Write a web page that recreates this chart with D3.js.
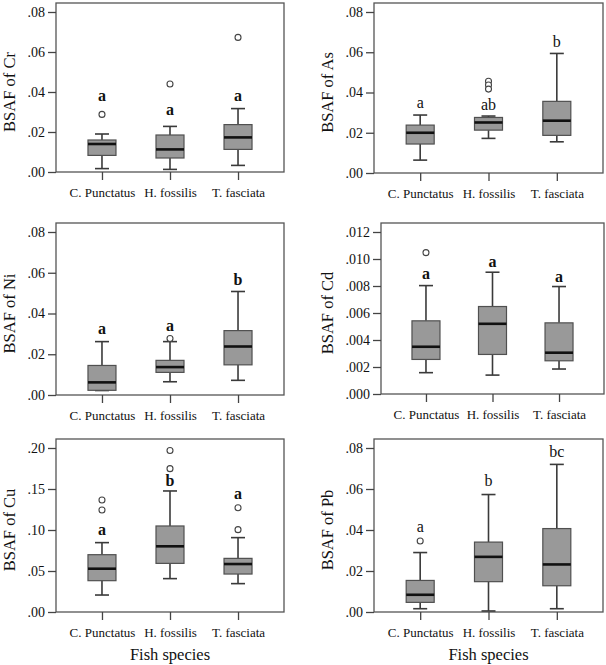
<!DOCTYPE html>
<html><head><meta charset="utf-8">
<script src="https://cdn.jsdelivr.net/npm/d3@7/dist/d3.min.js"></script>
<style>body{margin:0;background:#fff}svg{display:block}text{font-family:"Liberation Serif","Times New Roman",serif;fill:#111}</style>
</head><body><svg id="c" width="606" height="665"></svg>
<script>
const species = ["C. Punctatus", "H. fossilis", "T. fasciata"];
const metals = ["Cr", "As", "Ni", "Cd", "Cu", "Pb"];
// per metal: [whiskerLow, q1, median, q3, whiskerHigh] for each species
const statsCr = [[0.0017,0.0083,0.014,0.016,0.019],[0.0013,0.007,0.0113,0.0185,0.0228],[0.0033,0.0113,0.0173,0.0237,0.0317]];
const statsAs = [[0.0064,0.0144,0.020,0.0238,0.0288],[0.0172,0.0213,0.0251,0.0276,0.0283],[0.0155,0.0187,0.026,0.0356,0.0594]];
const statsNi = [[0.0022,0.0023,0.0062,0.0145,0.0262],[0.0065,0.0111,0.0137,0.017,0.0262],[0.0072,0.0148,0.0238,0.0316,0.0508]];
const statsCd = [[0.00158,0.00256,0.0035,0.00542,0.00803],[0.0014,0.00293,0.0052,0.00648,0.00902],[0.00185,0.00246,0.00306,0.00527,0.00796]];
const statsCu = [[0.0207,0.0382,0.0528,0.0699,0.0846],[0.0407,0.0593,0.0801,0.1049,0.1476],[0.0346,0.0463,0.0585,0.0654,0.0907]];
const statsPb = [[0.0016,0.0047,0.0084,0.0154,0.029],[0.0005,0.0148,0.0269,0.0341,0.0573],[0.0016,0.0128,0.0232,0.0407,0.072]];
// outliers per species
const outCr = [[0.0288],[0.044],[0.0673]];
const outAs = [[],[0.0456,0.0437,0.0417],[]];
const outNi = [[],[0.0277],[]];
const outCd = [[0.01047],[],[]];
const outCu = [[0.1366,0.1244],[0.197,0.1748],[0.1272,0.1004]];
const outPb = [[0.0346],[],[]];
// significance letters and their value positions
const letCr = ["a","a","a"], letYCr = [0.0357,0.0285,0.0355];
const letAs = ["a","ab","b"], letYAs = [0.0321,0.0312,0.0627];
const letNi = ["a","a","b"], letYNi = [0.030,0.0316,0.0538];
const letCd = ["a","a","a"], letYCd = [0.00855,0.00941,0.0083];
const letCu = ["a","b","a"], letYCu = [0.0935,0.154,0.138];
const letPb = ["a","b","bc"], letYPb = [0.039,0.0617,0.0758];
// tick values
const ticks08 = [0,0.02,0.04,0.06,0.08];
const ticksCd = [0,0.002,0.004,0.006,0.008,0.010,0.012];
const ticksCu = [0,0.05,0.10,0.15,0.20];

const panels = [
  {m:"Cr", st:statsCr, out:outCr, let:letCr, letY:letYCr, ticks:ticks08, dec:2, bold:true,  L:56,  R:284, T:3,   B:172, ylx:15,  xlabel:false},
  {m:"As", st:statsAs, out:outAs, let:letAs, letY:letYAs, ticks:ticks08, dec:2, bold:false, L:374, R:603, T:3,   B:173, ylx:333, xlabel:false},
  {m:"Ni", st:statsNi, out:outNi, let:letNi, letY:letYNi, ticks:ticks08, dec:2, bold:true,  L:56,  R:284, T:223, B:395, ylx:15,  xlabel:false},
  {m:"Cd", st:statsCd, out:outCd, let:letCd, letY:letYCd, ticks:ticksCd, dec:3, bold:true,  L:381, R:604, T:223, B:394, ylx:333, xlabel:false},
  {m:"Cu", st:statsCu, out:outCu, let:letCu, letY:letYCu, ticks:ticksCu, dec:2, bold:true,  L:56,  R:284, T:439, B:612, ylx:15,  xlabel:true},
  {m:"Pb", st:statsPb, out:outPb, let:letPb, letY:letYPb, ticks:ticks08, dec:2, bold:false, L:374, R:603, T:439, B:612, ylx:333, xlabel:true}
];

const svg = d3.select("#c");
const stroke = "#3a3a3a";

panels.forEach(p => {
  const maxT = p.ticks[p.ticks.length-1];
  const topTickPx = p.T + 9;
  const y = d3.scaleLinear().domain([0, maxT]).range([p.B, topTickPx]);
  const x = d3.scalePoint().domain(species).range([p.L, p.R]).padding(0.676);
  const g = svg.append("g");
  const fmt = v => d3.format("." + p.dec + "f")(v).replace(/^0/, "");

  // frame
  g.append("rect").attr("x", p.L).attr("y", p.T).attr("width", p.R - p.L).attr("height", p.B - p.T)
    .attr("fill", "none").attr("stroke", "#555").attr("stroke-width", 1.3);

  // y axis
  const ya = g.append("g").attr("transform", `translate(${p.L},0)`)
    .call(d3.axisLeft(y).tickValues(p.ticks).tickFormat(fmt).tickSize(8).tickPadding(3));
  ya.select(".domain").remove();
  ya.selectAll("line").attr("stroke", "#444").attr("stroke-width", 1.3);
  ya.selectAll("text").style("font-size", "14px").attr("fill", "#111");

  // x axis
  const xa = g.append("g").attr("transform", `translate(0,${p.B})`)
    .call(d3.axisBottom(x).tickSize(8).tickPadding(5));
  xa.select(".domain").remove();
  xa.selectAll("line").attr("stroke", "#444").attr("stroke-width", 1.3);
  xa.selectAll("text").style("font-size", "13px").attr("fill", "#111").attr("dy", "0.9em");

  // y label
  g.append("text").attr("transform", `translate(${p.ylx},${(p.B + topTickPx)/2}) rotate(-90)`)
    .attr("text-anchor", "middle").style("font-size", "16.5px").text("BSAF of " + p.m);

  if (p.xlabel) {
    g.append("text").attr("x", (p.L + p.R)/2).attr("y", 660).attr("text-anchor", "middle")
      .style("font-size", "16.5px").text("Fish species");
  }

  const bw = 28, cw = 14;
  species.forEach((sp, i) => {
    const [lo, q1, md, q3, hi] = p.st[i];
    const cx = x(sp);
    const bg = g.append("g");
    // whiskers
    bg.append("line").attr("x1", cx).attr("x2", cx).attr("y1", y(q3)).attr("y2", y(hi)).attr("stroke", stroke).attr("stroke-width", 1.6);
    bg.append("line").attr("x1", cx).attr("x2", cx).attr("y1", y(q1)).attr("y2", y(lo)).attr("stroke", stroke).attr("stroke-width", 1.6);
    bg.append("line").attr("x1", cx - cw/2).attr("x2", cx + cw/2).attr("y1", y(hi)).attr("y2", y(hi)).attr("stroke", stroke).attr("stroke-width", 1.6);
    bg.append("line").attr("x1", cx - cw/2).attr("x2", cx + cw/2).attr("y1", y(lo)).attr("y2", y(lo)).attr("stroke", stroke).attr("stroke-width", 1.6);
    // box
    bg.append("rect").attr("x", cx - bw/2).attr("y", y(q3)).attr("width", bw).attr("height", y(q1) - y(q3))
      .attr("fill", "#999999").attr("stroke", "#505050").attr("stroke-width", 1.2);
    bg.append("line").attr("x1", cx - bw/2).attr("x2", cx + bw/2).attr("y1", y(md)).attr("y2", y(md))
      .attr("stroke", "#111").attr("stroke-width", 2.6);
    // outliers
    p.out[i].forEach(v => {
      bg.append("circle").attr("cx", cx).attr("cy", y(v)).attr("r", 3)
        .attr("fill", "#fff").attr("stroke", "#444").attr("stroke-width", 1.1);
    });
    // letters
    g.append("text").attr("x", cx).attr("y", y(p.letY[i])).attr("text-anchor", "middle")
      .style("font-size", "16px").style("font-weight", p.bold ? "bold" : "normal").text(p.let[i]);
  });
});
</script></body></html>
